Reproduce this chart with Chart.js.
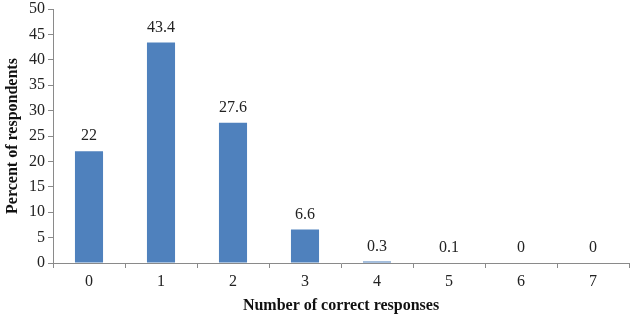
<!DOCTYPE html>
<html>
<head>
<meta charset="utf-8">
<script src="https://cdn.jsdelivr.net/npm/chart.js@4"></script>
<style>
  html, body { margin: 0; padding: 0; background: #fff; }
  #wrap { width: 633px; height: 317px; position: relative; }
</style>
</head>
<body>
<div id="wrap"><canvas id="chart"></canvas></div>
<script>
var categories = ["0", "1", "2", "3", "4", "5", "6", "7"];
var percents = [22, 43.4, 27.6, 6.6, 0.3, 0.1, 0, 0];
var yTicks = [0, 5, 10, 15, 20, 25, 30, 35, 40, 45, 50];

var serif = "'Liberation Serif', 'Times New Roman', serif";

// value labels above each bar
var barLabels = {
    id: 'barLabels',
    afterDatasetsDraw: function(chart) {
        var ctx = chart.ctx;
        var meta = chart.getDatasetMeta(0);
        ctx.save();
        ctx.font = "16px " + serif;
        ctx.fillStyle = "#222";
        ctx.textAlign = "center";
        ctx.textBaseline = "middle";
        meta.data.forEach(function(bar, i) {
            ctx.fillText(String(percents[i]), bar.x, bar.y - 15);
        });
        ctx.restore();
    }
};

var chart = new Chart(document.getElementById("chart"), {
    type: 'bar',
    data: {
        labels: categories,
        datasets: [{
            data: percents,
            backgroundColor: '#4F81BD',
            barPercentage: 0.39,
            categoryPercentage: 1.0
        }]
    },
    options: {
        responsive: true,
        maintainAspectRatio: false,
        animation: false,
        layout: { padding: { top: 9, right: 4, left: 0, bottom: 0 } },
        plugins: {
            legend: { display: false },
            tooltip: { enabled: false }
        },
        scales: {
            x: {
                grid: {
                    drawOnChartArea: false,
                    tickLength: 5,
                    color: '#8a8a8a'
                },
                border: { color: '#8a8a8a' },
                ticks: {
                    font: { family: serif, size: 16 },
                    color: '#222',
                    padding: 4
                },
                title: {
                    display: true,
                    text: 'Number of correct responses',
                    font: { family: serif, size: 16, weight: 'bold' },
                    color: '#111',
                    padding: { top: 2, bottom: 2 }
                },
                afterFit: function(scale) { scale.height = 54; }
            },
            y: {
                min: 0,
                max: 50,
                afterBuildTicks: function(scale) {
                    scale.ticks = yTicks.map(function(v) { return { value: v }; });
                },
                grid: {
                    drawOnChartArea: false,
                    tickLength: 5,
                    color: '#8a8a8a'
                },
                border: { color: '#8a8a8a' },
                ticks: {
                    font: { family: serif, size: 16 },
                    color: '#222',
                    padding: 3
                },
                title: {
                    display: true,
                    text: 'Percent of respondents',
                    font: { family: serif, size: 16, weight: 'bold' },
                    color: '#111',
                    padding: { top: 3, bottom: 0 }
                },
                afterFit: function(scale) {
                    scale.width = 53;
                    scale.paddingTop = 0;
                    scale.paddingBottom = 0;
                }
            }
        }
    },
    plugins: [barLabels]
});
</script>
</body>
</html>
